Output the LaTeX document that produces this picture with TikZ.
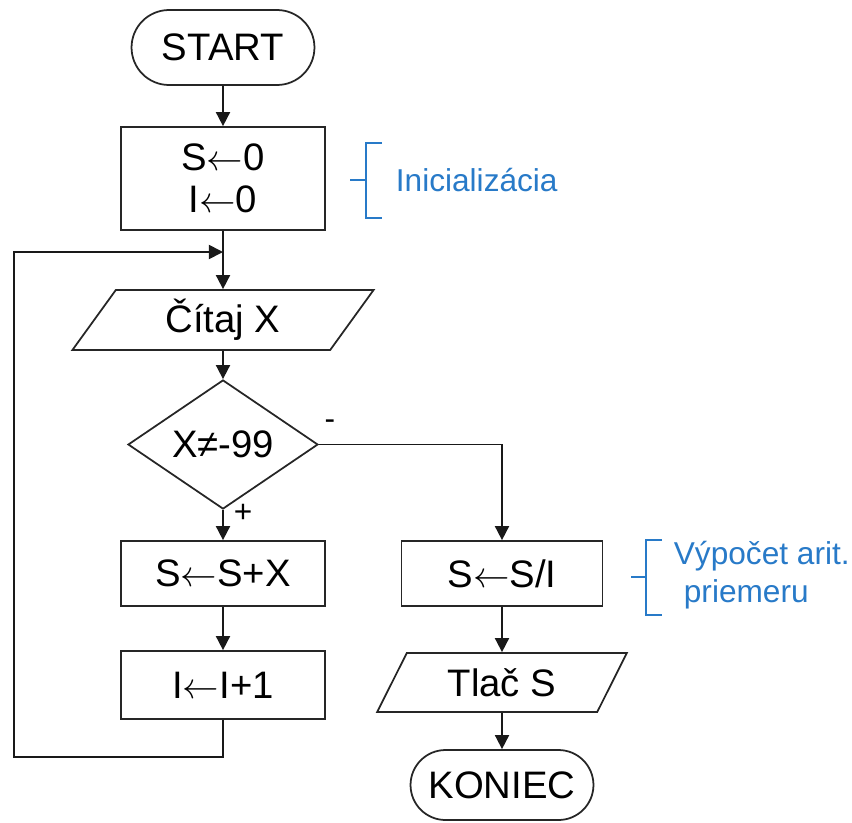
\documentclass[tikz,border=0pt]{standalone}
\usepackage{fontspec}
\setmainfont{Liberation Sans}
\usepackage{xcolor}
\definecolor{noteblue}{RGB}{40,122,200}
\usetikzlibrary{shapes,arrows.meta,positioning}

\newcommand{\assign}{\(\leftarrow\)}

\begin{document}
\begin{tikzpicture}[
    x=0.02cm, y=-0.02cm,
    line width=1pt,
    every node/.style={font=\fontsize{21.8}{24}\selectfont, inner sep=2pt, align=center},
    terminal/.style={rounded rectangle, draw=black!85, minimum width=3.8cm, minimum height=1.5cm},
    process/.style={rectangle, draw=black!85, minimum width=4.08cm, minimum height=1.3cm},
    io/.style={trapezium, draw=black!85, trapezium left angle=63, trapezium right angle=117,
        trapezium stretches=true, minimum height=1.2cm},
    decision/.style={diamond, draw=black!85, minimum width=3.8cm, minimum height=2.22cm, inner sep=0pt},
    line/.style={draw=black!90, -{Triangle[width=8pt,length=8pt]}},
    branch/.style={font=\fontsize{18}{20}\selectfont},
    note/.style={draw=noteblue},
    notetext/.style={text=noteblue, font=\fontsize{18}{21.5}\selectfont, align=left, anchor=west}
]
    \useasboundingbox (0,0) rectangle (852,822);

    \node[terminal] (start) at (223,47.5) {START};
    \node[process, minimum height=2.06cm] (init) at (223,178.5) {S\assign0\\I\assign0};
    \node[io, minimum width=6.06cm] (read) at (223,320) {Čítaj X};
    \node[decision] (test) at (223,444.5) {X≠-99};
    \node[process] (add) at (223,573.5) {S\assign S+X};
    \node[process, minimum height=1.36cm] (inc) at (223,685) {I\assign I+1};
    \node[process, minimum width=4.02cm] (avg) at (502,573.5) {S\assign S/I};
    \node[io, minimum width=5.04cm, minimum height=1.18cm] (print) at (502,682.5) {Tlač S};
    \node[terminal, minimum height=1.4cm] (stop) at (502,785) {KONIEC};

    \node[branch] (plus) at (243,513) {+};
    \node[branch] (minus) at (330,425) {-};

    \coordinate (merge) at (223,252);
    \coordinate (back) at (14,757);

    \draw[line] (start) -- (init);
    \draw[line] (init) -- (read);
    \draw[line] (read) -- (test);
    \draw[line] (test) -- (add);
    \draw[line] (add) -- (inc);
    \draw[line] (inc) |- (back) |- (merge);
    \draw[line] (test.east) -| (avg.north);
    \draw[line] (avg) -- (print);
    \draw[line] (print) -- (stop);

    \node[notetext] (initnote) at (391.5,180) {Inicializácia};
    \draw[note] (350,180) -- (366,180);
    \draw[note] (382,143) -- (366,143) -- (366,218) -- (382,218);

    \node[notetext] (avgnote) at (669.5,575) {Výpočet arit.\\\hspace*{0.2cm}priemeru};
    \draw[note] (631,577) -- (646,577);
    \draw[note] (662,540) -- (646,540) -- (646,615) -- (662,615);
\end{tikzpicture}
\end{document}
